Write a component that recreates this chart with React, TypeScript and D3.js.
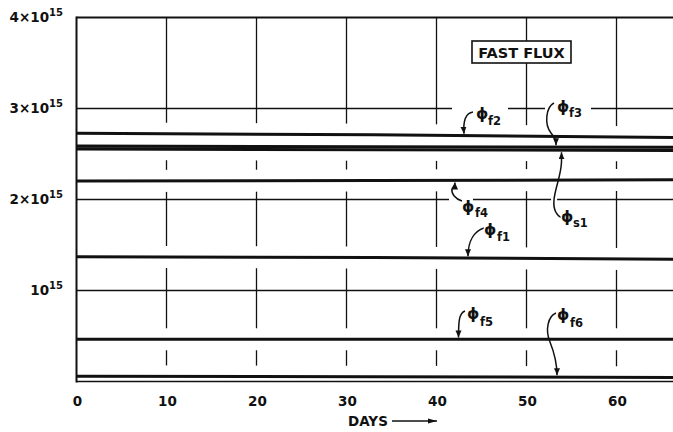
import React from "react";
import * as d3 from "d3";

const WIDTH = 673;
const HEIGHT = 432;

// axis ticks
const xTickValues = [0, 10, 20, 30, 40, 50, 60];
const yTickValues = [1, 2, 3, 4]; // units of 10^15 n/cm2-s
const yTickPrefix = ["", "2×", "3×", "4×"];

// readings (days) and fluxes in units of 10^15
const readDays = [0, 33, 66.4];
const phiF2 = [2.727, 2.712, 2.68];
const phiF3 = [2.586, 2.579, 2.574];
const phiS1 = [2.555, 2.547, 2.54];
const phiF4 = [2.203, 2.209, 2.216];
const phiF1 = [1.371, 1.362, 1.343];
const phiF5 = [0.464, 0.464, 0.464];
const phiF6 = [0.057, 0.052, 0.045];

const seriesSubs = ["f2", "f3", "s1", "f4", "f1", "f5", "f6"];
const seriesValues = [phiF2, phiF3, phiS1, phiF4, phiF1, phiF5, phiF6];

const FONT = "'DejaVu Sans', sans-serif";

export default function App() {
  const x = d3.scaleLinear().domain([0, 66.4]).range([76.5, 76.5 + 66.4 * 9]);
  const y = d3.scaleLinear().domain([0, 4]).range([381.5, 17.5]);
  const line = d3
    .line<[number, number]>()
    .x((d) => x(d[0]))
    .y((d) => y(d[1]));
  const interp = seriesValues.map((vals) => d3.scaleLinear().domain(readDays).range(vals));
  const yAt = (i: number, day: number) => y(interp[i](day));

  // vertical grid segments broken around data lines
  const gridSegs: { xv: number; y1: number; y2: number }[] = [];
  xTickValues.slice(1).forEach((d) => {
    const gaps = seriesValues
      .map((_, i) => yAt(i, d))
      .map((yy) => [yy - 11, yy + 11] as [number, number])
      .sort((a, b) => a[0] - b[0]);
    let cur = y(4);
    gaps.forEach(([g1, g2]) => {
      if (g1 > cur) gridSegs.push({ xv: x(d), y1: cur, y2: g1 });
      cur = Math.max(cur, g2);
    });
    if (cur < y(0)) gridSegs.push({ xv: x(d), y1: cur, y2: y(0) });
  });

  const dayOf = (px: number) => x.invert(px);
  const tip = (i: number, px: number, above: boolean) => {
    const ly = yAt(i, dayOf(px));
    return [px, above ? ly - 1.8 : ly + 2.2];
  };

  const annots = [
    {
      i: 0, px: 476, py: 119, sx: 488, sy: 125,
      d: (t: number[]) => `M473,112 C466,113 463,121 ${t[0]},${t[1]}`,
      t: tip(0, 464, true), bg: [452, 103, 56, 10],
    },
    {
      i: 1, px: 557, py: 112, sx: 569, sy: 117,
      d: (t: number[]) => `M554,103 C546,107 544,124 551,133 C554,137 ${t[0]},139 ${t[0]},${t[1]}`,
      t: tip(1, 556, true), bg: [545, 103, 46, 10],
    },
    {
      i: 2, px: 561, py: 222, sx: 573, sy: 227,
      d: (t: number[]) => `M562,218 C557,216 553,210 554,200 C555,188 561,176 ${t[0]},162 L${t[0]},${t[1]}`,
      t: tip(2, 561.5, false), bg: null,
    },
    {
      i: 3, px: 462, py: 212, sx: 475, sy: 217,
      d: (t: number[]) => `M462,201 C455,199 451,193 452,189 C453,186 ${t[0]},186 ${t[0]},${t[1]}`,
      t: tip(3, 455, false), bg: [449, 195, 24, 9],
    },
    {
      i: 4, px: 484, py: 235, sx: 497, sy: 241,
      d: (t: number[]) => `M484,228 C475,231 ${t[0]},240 ${t[0]},${t[1]}`,
      t: tip(4, 468, true), bg: null,
    },
    {
      i: 5, px: 467, py: 319, sx: 480, sy: 326,
      d: (t: number[]) => `M465,311 C459,313 ${t[0]},322 ${t[0]},${t[1]}`,
      t: tip(5, 458.5, true), bg: null,
    },
    {
      i: 6, px: 557, py: 320, sx: 570, sy: 327,
      d: (t: number[]) => `M556,313 C548,316 545,330 550,342 C554,352 ${t[0]},362 ${t[0]},${t[1]}`,
      t: tip(6, 557, true), bg: null,
    },
  ];

  const ink = "#111";

  return (
    <div style={{ position: "absolute", left: 0, top: 0 }}>
      <svg width={WIDTH} height={HEIGHT} style={{ display: "block", background: "#fff" }}>
        <defs>
          <marker id="arr" markerUnits="userSpaceOnUse" markerWidth={8} markerHeight={7} refX={7} refY={3} orient="auto">
            <path d="M0,0 L7,3 L0,6 z" fill={ink} />
          </marker>
          <marker id="arrBig" markerUnits="userSpaceOnUse" markerWidth={10} markerHeight={7} refX={9} refY={3} orient="auto">
            <path d="M0,0.5 L9,3 L0,5.5 z" fill={ink} />
          </marker>
        </defs>

        {/* horizontal grid */}
        {yTickValues.slice(0, 3).map((v) => (
          <line key={"h" + v} x1={x(0)} x2={WIDTH} y1={y(v)} y2={y(v)} stroke={ink} strokeWidth={1.3} />
        ))}
        {/* vertical grid segments */}
        {gridSegs.map((s, k) => (
          <line key={"v" + k} x1={s.xv} x2={s.xv} y1={s.y1} y2={s.y2} stroke={ink} strokeWidth={1.3} />
        ))}

        {/* label backgrounds and leader underlays */}
        {annots.map((a, k) =>
          a.bg ? <rect key={"bg" + k} x={a.bg[0]} y={a.bg[1]} width={a.bg[2]} height={a.bg[3]} fill="#fff" /> : null
        )}
        {annots.map((a, k) => (
          <path key={"ul" + k} d={a.d(a.t)} fill="none" stroke="#fff" strokeWidth={6} />
        ))}

        {/* frame */}
        <line x1={x(0)} x2={WIDTH} y1={y(4)} y2={y(4)} stroke={ink} strokeWidth={2} />
        <line x1={x(0)} x2={x(0)} y1={y(4) - 1} y2={y(0) + 1} stroke={ink} strokeWidth={2} />
        <line x1={x(0)} x2={WIDTH} y1={y(0)} y2={y(0)} stroke={ink} strokeWidth={1.6} />

        {/* data lines */}
        {seriesValues.map((vals, i) => (
          <path
            key={"s" + i}
            d={line(readDays.map((d, k) => [d, vals[k]] as [number, number])) || ""}
            fill="none"
            stroke={ink}
            strokeWidth={i === 1 || i === 2 ? 3.1 : 3}
          />
        ))}

        {/* leaders */}
        {annots.map((a, k) => (
          <path key={"ld" + k} d={a.d(a.t)} fill="none" stroke={ink} strokeWidth={1.5} markerEnd="url(#arr)" />
        ))}

        {/* annotation labels */}
        {annots.map((a, k) => (
          <g key={"lb" + k} fontFamily={FONT} fontWeight="bold" fill={ink}>
            <text x={a.px} y={a.py} fontSize={15.5} stroke="#fff" strokeWidth={3} paintOrder="stroke">ϕ</text>
            <text x={a.sx} y={a.sy} fontSize={11.5} stroke="#fff" strokeWidth={3} paintOrder="stroke">
              {seriesSubs[a.i]}
            </text>
          </g>
        ))}

        {/* FAST FLUX box */}
        <rect x={472} y={41} width={99} height={22} fill="#fff" stroke={ink} strokeWidth={1.6} />
        <text x={521.5} y={57.5} textAnchor="middle" fontFamily={FONT} fontWeight="bold" fontSize={14.5} fill={ink}>
          FAST FLUX
        </text>

        {/* y tick labels */}
        {yTickValues.map((v, k) => (
          <text key={"yt" + v} x={63} y={y(v) + 4.5} textAnchor="end" fontFamily={FONT} fontWeight="bold" fontSize={13.5} fill={ink}>
            {yTickPrefix[k]}10
            <tspan dy={-6.5} fontSize={10}>15</tspan>
          </text>
        ))}

        {/* x tick labels */}
        {xTickValues.map((d) => (
          <text key={"xt" + d} x={x(d) + 1} y={406} textAnchor="middle" fontFamily={FONT} fontWeight="bold" fontSize={13.5} fill={ink}>
            {d}
          </text>
        ))}

        {/* x axis title */}
        <text x={348} y={425.5} fontFamily={FONT} fontWeight="bold" fontSize={13.5} fill={ink}>
          DAYS
        </text>
        <line x1={392} x2={437} y1={421} y2={421} stroke={ink} strokeWidth={1.5} markerEnd="url(#arrBig)" />
      </svg>
    </div>
  );
}
